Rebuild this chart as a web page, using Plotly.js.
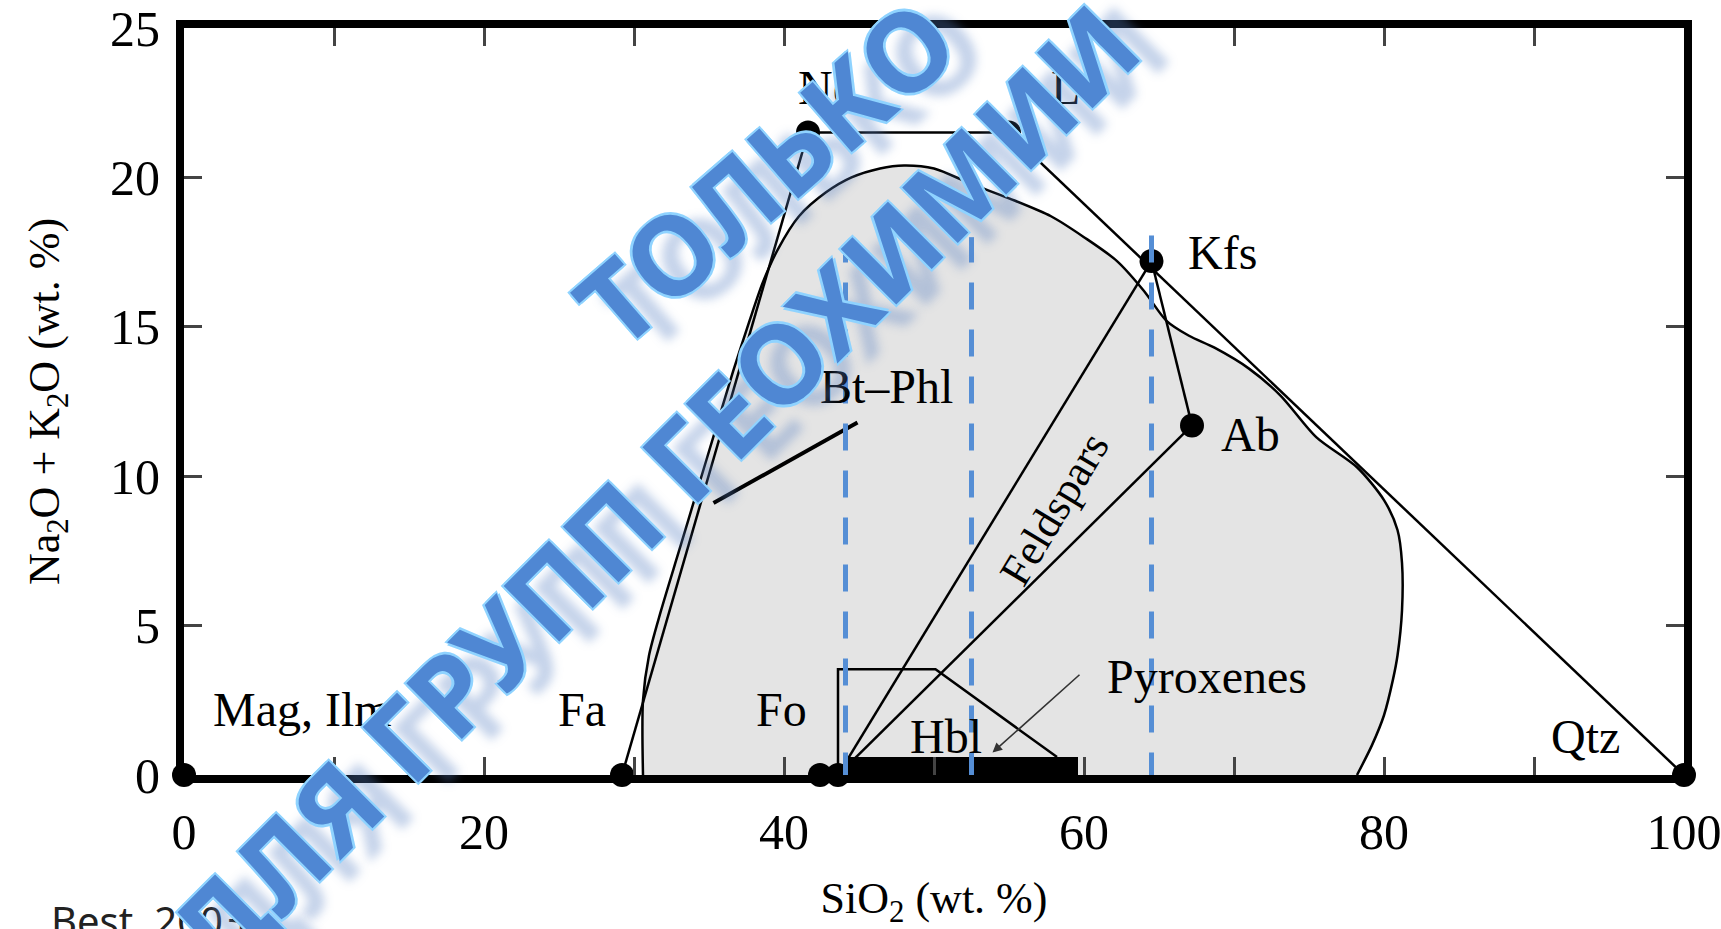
<!DOCTYPE html>
<html>
<head>
<meta charset="utf-8">
<script src="https://cdn.plot.ly/plotly-3.0.1.min.js"></script>
<style>
  html, body { margin: 0; padding: 0; background: #fff; }
  #chart { width: 1721px; height: 929px; }
</style>
</head>
<body>
<div id="chart"></div>
<script>
// End-member minerals: SiO2 and Na2O + K2O (wt. %)
var minerals = ['Mag, Ilm', 'Fa', 'Fo', 'An', 'Ne', 'Lc', 'Kfs', 'Ab', 'Qtz'];
var mineralSiO2 = [0, 29.2, 42.4, 43.6, 41.6, 55.0, 64.5, 67.2, 100];
var mineralAlk = [0, 0, 0, 0, 21.5, 21.5, 17.2, 11.7, 0];

// Tie lines between end-members
var joins = [['Ne', 'Lc'], ['Lc', 'Qtz'], ['Ne', 'Fa'], ['Kfs', 'Ab'], ['Kfs', 'An'], ['Ab', 'An']];

// Grey field of common igneous rocks (outline)
var fieldSiO2 = [30.6, 30.6, 31.0, 31.8, 33.0, 34.2, 35.4, 36.6, 37.7, 38.6, 39.6, 41.0, 42.8, 44.5, 46.4, 48.0,
  50.0, 52.4, 55.0, 57.8, 60.0, 62.2, 64.0, 65.5, 67.0, 68.7, 71.0, 73.1, 75.5, 78.2, 80.0, 80.9, 81.2, 81.2,
  80.9, 80.6, 80.0, 79.2, 78.2];
var fieldAlk = [0, 2.5, 4.0, 5.5, 7.5, 9.5, 11.5, 13.5, 15.2, 16.5, 17.6, 18.7, 19.5, 20.0, 20.3, 20.4,
  20.3, 19.8, 19.3, 18.7, 18.0, 17.2, 16.2, 15.2, 14.7, 14.3, 13.6, 12.7, 11.3, 10.3, 9.2, 8.2, 7.1, 5.5,
  4.0, 3.2, 2.0, 1.0, 0];

// Hornblende field
var hblSiO2 = [43.6, 43.6, 50.1, 58.2];
var hblAlk = [0, 3.54, 3.54, 0.6];

// Pyroxene bar
var pxSiO2 = [44.0, 59.6, 59.6, 44.0];
var pxAlk = [0, 0, 0.6, 0.6];

// Bt-Phl pointer
var btSiO2 = [44.9, 35.3];
var btAlk = [11.8, 9.1];

// Dashed SiO2 limits
var limitSiO2 = [44.1, 52.5, 64.5];
var limitTop = [17.5, 18.0, 18.2];

// Axis ticks
var xTickVals = [0, 20, 40, 60, 80, 100];
var xMinorVals = [10, 30, 50, 70, 90];
var yTickVals = [0, 5, 10, 15, 20, 25];

// Label texts and where they sit
var labelText = ['Mag, Ilm', 'Fa', 'Fo', 'An', 'Hbl', 'Pyroxenes', 'Qtz', 'Ab', 'Kfs', 'Bt\u2013Phl', 'Ne', 'Lc'];
var labelX = [7.9, 26.5, 39.8, 46.3, 50.8, 68.2, 93.4, 71.1, 69.2, 46.8, 42.8, 59.5];
var labelY = [2.2, 2.2, 2.2, -1.45, 1.3, 3.3, 1.3, 11.4, 17.5, 13.0, 23.0, 23.0];

var serif = 'Liberation Serif, Times New Roman, serif';

function idx(name) { return minerals.indexOf(name); }

// tie lines as one trace, broken by nulls
var joinX = [], joinY = [];
joins.forEach(function (j) {
  joinX.push(mineralSiO2[idx(j[0])], mineralSiO2[idx(j[1])], null);
  joinY.push(mineralAlk[idx(j[0])], mineralAlk[idx(j[1])], null);
});

var limX = [], limY = [];
limitSiO2.forEach(function (v, i) {
  limX.push(v, v, null);
  limY.push(-0.15, limitTop[i], null);
});

var traces = [
  {
    x: fieldSiO2, y: fieldAlk, type: 'scatter', mode: 'lines',
    fill: 'toself', fillcolor: '#e4e4e4',
    line: { color: '#000', width: 2.5, shape: 'spline', smoothing: 0.8 }
  },
  {
    x: hblSiO2, y: hblAlk, type: 'scatter', mode: 'lines',
    line: { color: '#000', width: 2.5 }
  },
  {
    x: pxSiO2, y: pxAlk, type: 'scatter', mode: 'lines',
    fill: 'toself', fillcolor: '#000', line: { color: '#000', width: 0 }
  },
  {
    x: joinX, y: joinY, type: 'scatter', mode: 'lines',
    line: { color: '#000', width: 2.5 }
  },
  {
    x: btSiO2, y: btAlk, type: 'scatter', mode: 'lines',
    line: { color: '#000', width: 4 }
  },
  {
    x: mineralSiO2, y: mineralAlk, type: 'scatter', mode: 'markers',
    marker: { color: '#000', size: 24 }, cliponaxis: false
  },
  {
    x: limX, y: limY, type: 'scatter', mode: 'lines',
    line: { color: '#558ed5', width: 5, dash: '27px,20px' }
  }
];

var annotations = labelText.map(function (t, i) {
  return {
    x: labelX[i], y: labelY[i], xref: 'x', yref: 'y', text: t, showarrow: false,
    xanchor: 'center', yanchor: 'middle',
    font: { family: serif, size: 48, color: '#000' }
  };
});

// Feldspars along the tie lines
annotations.push({
  x: 58.0, y: 8.9, xref: 'x', yref: 'y', text: 'Feldspars', showarrow: false,
  textangle: -59, font: { family: serif, size: 44, color: '#000' }
});

// arrow from Pyroxenes to the bar
annotations.push({
  x: 53.9, y: 0.75, xref: 'x', yref: 'y', ax: 59.8, ay: 3.4, axref: 'x', ayref: 'y',
  text: '', showarrow: true, arrowhead: 2, arrowsize: 1.2, arrowwidth: 1.6, arrowcolor: '#333'
});

// source
annotations.push({
  x: -0.09, y: -0.155, xref: 'paper', yref: 'paper', text: 'Best, 2003', showarrow: false,
  xanchor: 'left', yanchor: 'top', font: { family: 'Noto Sans, sans-serif', size: 40, color: '#222' }
});

// watermark
var wmFont = {
  family: 'Noto Sans, Open Sans, sans-serif', size: 110, color: '#4f87d3', weight: 'bold',
  shadow: '2px 2px 0 #8fd3ff, -2px -2px 0 #8fd3ff, 2px -2px 0 #8fd3ff, -2px 2px 0 #8fd3ff, 20px 22px 10px rgba(90,130,195,0.35)'
};
annotations.push({
  x: 38.7, y: 20.2, xref: 'x', yref: 'y', text: '\u0422\u041e\u041b\u042c\u041a\u041e', showarrow: false,
  textangle: -41, font: wmFont
});
annotations.push({
  x: 31.2, y: 9.6, xref: 'x', yref: 'y', text: '\u0414\u041b\u042f \u0413\u0420\u0423\u041f\u041f \u0413\u0415\u041e\u0425\u0418\u041c\u0418\u0418',
  showarrow: false, textangle: -45, font: wmFont
});

var axisCommon = {
  showgrid: false, zeroline: false, showline: true, linecolor: '#000', linewidth: 8,
  mirror: 'ticks', ticks: 'inside', ticklen: 18, tickwidth: 3, tickcolor: '#444',
  ticklabeloverflow: 'allow',
  tickfont: { family: serif, size: 50, color: '#000' }
};

var layout = {
  width: 1721, height: 929,
  paper_bgcolor: '#fff', plot_bgcolor: '#fff',
  showlegend: false,
  margin: { l: 184, r: 37, t: 28, b: 154 },
  xaxis: Object.assign({}, axisCommon, {
    range: [0, 100], tickmode: 'array', tickvals: xTickVals,
    minor: { tickvals: xMinorVals, ticks: 'inside', ticklen: 18, tickwidth: 3, tickcolor: '#444' },
    ticklabelstandoff: 6,
    title: { text: 'SiO<sub>2</sub> (wt. %)', font: { family: serif, size: 44, color: '#000' }, standoff: 26 }
  }),
  yaxis: Object.assign({}, axisCommon, {
    range: [0, 25], tickmode: 'array', tickvals: yTickVals,
    ticklabelstandoff: 6,
    title: { text: 'Na<sub>2</sub>O + K<sub>2</sub>O (wt. %)', font: { family: serif, size: 44, color: '#000' }, standoff: 40 }
  }),
  annotations: annotations
};

Plotly.newPlot('chart', traces, layout, { staticPlot: true });
</script>
</body>
</html>
